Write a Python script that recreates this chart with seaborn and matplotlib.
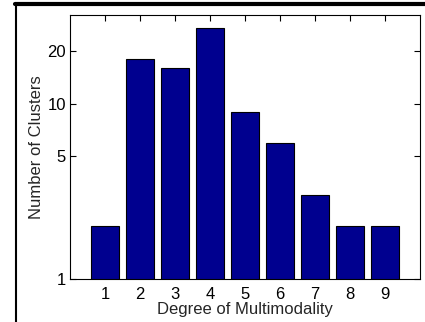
import seaborn as sns
import matplotlib.pyplot as plt
import pandas as pd
from matplotlib.lines import Line2D

degree = [1, 2, 3, 4, 5, 6, 7, 8, 9]
clusters = [2, 18, 16, 27, 9, 6, 3, 2, 2]
yticks = [1, 5, 10, 20]

df = pd.DataFrame({'degree': degree, 'clusters': clusters})

sns.set_style('ticks')
plt.rcParams['font.family'] = ['Liberation Sans', 'DejaVu Sans']

fig = plt.figure(figsize=(4.25, 3.22), dpi=100)
ax = fig.add_axes([70 / 425, 1 - 279 / 322, 350 / 425, 264 / 322])
ax.set_yscale('log')

sns.barplot(data=df, x='degree', y='clusters', native_scale=True,
            color='#00008F', saturation=1, width=0.8,
            edgecolor='black', linewidth=0.8, ax=ax)

ax.set_xlim(0, 10)
ax.set_ylim(1, 32)
ax.set_xticks(degree)
ax.set_xticklabels([str(d) for d in degree])
ax.set_yticks(yticks)
ax.set_yticklabels([str(t) for t in yticks])
ax.minorticks_off()
ax.tick_params(direction='in', top=True, right=True, length=4, width=0.8,
               labelsize=12, colors='black')
ax.tick_params(axis='x', pad=6)
ax.tick_params(axis='y', pad=3)
for s in ax.spines.values():
    s.set_visible(True)
    s.set_color('black')
    s.set_linewidth(0.8)
ax.set_xlabel('Degree of Multimodality', fontsize=12, labelpad=0)
ax.set_ylabel('Number of Clusters', fontsize=12, labelpad=2)

# outer frame lines
fig.add_artist(Line2D([15 / 425, 1], [1 - 3.5 / 322, 1 - 3.5 / 322],
                      color='black', linewidth=3, transform=fig.transFigure))
fig.add_artist(Line2D([15.5 / 425, 15.5 / 425], [0, 1 - 3.5 / 322],
                      color='black', linewidth=1.5, transform=fig.transFigure))

fig.savefig('out.png', dpi=100)
